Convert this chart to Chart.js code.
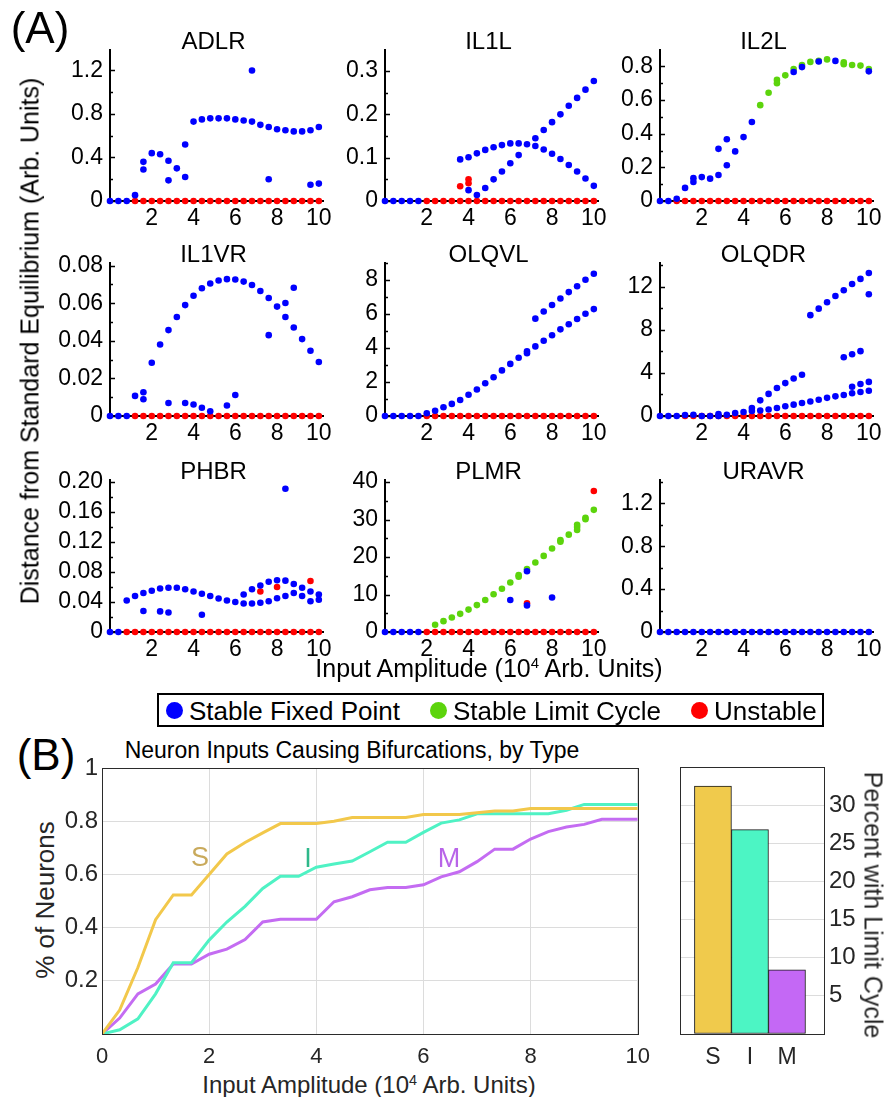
<!DOCTYPE html>
<html>
<head>
<meta charset="utf-8">
<script src="https://cdn.jsdelivr.net/npm/chart.js@4.4.1/dist/chart.umd.min.js"></script>
<style>
  body { margin: 0; background: #fff; }
  #fig { position: relative; width: 886px; height: 1097px; overflow: hidden;
         font-family: 'Liberation Sans', Arial, sans-serif; }
  canvas { position: absolute; }
  .t { position: absolute; white-space: nowrap; line-height: 1; transform-origin: center; }
  .dot { position: absolute; border-radius: 50%; }
</style>
</head>
<body>
<div id="fig"></div>
<script>
Chart.defaults.font.family = "'Liberation Sans', Arial, sans-serif";
Chart.defaults.color = "#000";
const fig = document.getElementById("fig");
const _ = null;

//Input amplitudes sampled in panel A (10^4 Arb. Units)
const amp = [0, 0.4, 0.8, 1.2, 1.6, 2, 2.4, 2.8, 3.2, 3.6, 4, 4.4, 4.8, 5.2, 5.6, 6, 6.4, 6.8, 7.2, 7.6, 8, 8.4, 8.8, 9.2, 9.6, 10];

//ADLR
const adlrBlue = [0, 0, 0, 0.054, 0.36, 0.44, 0.43, 0.37, 0.3, 0.52, 0.73, 0.75, 0.76, 0.76, 0.76, 0.75, 0.74, 0.73, 0.7, 0.68, 0.66, 0.65, 0.64, 0.64, 0.65, 0.68];
const adlrBlueX = [[4, 0.29], [7, 0.19], [9, 0.22], [17, 1.2], [19, 0.2], [24, 0.15], [25, 0.16]];
const adlrRed = [_, _, _, 0, 0, 0, 0, 0, 0, 0, 0, 0, 0, 0, 0, 0, 0, 0, 0, 0, 0, 0, 0, 0, 0, 0];

//IL1L
const il1lBlue = [0, 0, 0, 0, 0, _, _, _, _, 0.096, 0.101, 0.11, 0.118, 0.124, 0.129, 0.133, 0.133, 0.131, 0.145, 0.164, 0.182, 0.2, 0.22, 0.238, 0.257, 0.277];
const il1lBlueX = [[10, 0.025], [11, 0.014], [12, 0.03], [13, 0.05], [14, 0.068], [15, 0.087], [16, 0.106], [18, 0.127], [19, 0.119], [20, 0.109], [21, 0.097], [22, 0.083], [23, 0.068], [24, 0.052], [25, 0.035]];
const il1lRed = [_, _, _, _, _, 0, 0, 0, 0, 0, 0, 0, 0, 0, 0, 0, 0, 0, 0, 0, 0, 0, 0, 0, 0, 0];
const il1lRedX = [[9, 0.034], [10, 0.05], [10, 0.041]];

//IL2L
const il2lBlue = [0, 0, 0.013, 0.078, 0.136, 0.142, 0.133, 0.155, 0.213, 0.295, 0.38, 0.47, _, _, _, _, 0.767, 0.796, _, 0.829, _, 0.833, _, _, _, 0.771];
const il2lBlueX = [[4, 0.113], [7, 0.31], [8, 0.367]];
const il2lGreen = [_, _, _, _, _, _, _, _, _, _, _, _, 0.57, 0.644, 0.7, 0.747, 0.785, 0.809, 0.827, 0.833, 0.842, _, 0.824, 0.809, 0.805, 0.785];
const il2lGreenX = [[14, 0.72], [22, 0.813]];
const il2lRed = [_, _, 0, 0, 0, 0, 0, 0, 0, 0, 0, 0, 0, 0, 0, 0, 0, 0, 0, 0, 0, 0, 0, 0, 0, 0];

//IL1VR
const il1vrBlue = [0, 0, 0, 0.0107, 0.0126, 0.0283, 0.038, 0.0457, 0.0527, 0.059, 0.064, 0.068, 0.0705, 0.0721, 0.0728, 0.0726, 0.0715, 0.0697, 0.0665, 0.0628, 0.0582, 0.0527, 0.0471, 0.0409, 0.0347, 0.0287];
const il1vrBlueX = [[4, 0.0089], [7, 0.0069], [9, 0.0069], [10, 0.0061], [11, 0.0044], [12, 0.0025], [14, 0.0056], [15, 0.0112], [19, 0.043], [21, 0.0601], [22, 0.0682]];
const il1vrRed = [_, _, _, 0, 0, 0, 0, 0, 0, 0, 0, 0, 0, 0, 0, 0, 0, 0, 0, 0, 0, 0, 0, 0, 0, 0];

//OLQVL
const olqvlBlue = [0, 0, 0, 0, 0, 0.16, 0.31, 0.51, 0.71, 0.94, 1.25, 1.56, 1.92, 2.28, 2.68, 3.06, 3.42, 3.69, 4.09, 4.42, 4.74, 5.09, 5.39, 5.7, 6.01, 6.28];
const olqvlBlueX = [[17, 3.8], [18, 5.72], [19, 6.14], [20, 6.52], [21, 6.9], [22, 7.28], [23, 7.62], [24, 8.0], [25, 8.36]];
const olqvlRed = [_, _, _, _, _, 0, 0, 0, 0, 0, 0, 0, 0, 0, 0, 0, 0, 0, 0, 0, 0, 0, 0, 0, 0, 0];

//OLQDR
const olqdrBlue = [0, 0, 0, 0.09, 0.11, 0, 0, 0.17, 0.11, 0.28, 0.37, 0.46, 0.51, 0.6, 0.74, 0.91, 1.05, 1.2, 1.34, 1.51, 1.68, 1.82, 1.94, 2.11, 2.22, 2.34];
const olqdrBlueX = [[7, 0], [11, 0.74], [12, 1.45], [13, 2.05], [14, 2.59], [15, 3.05], [16, 3.48], [17, 3.82], [18, 9.35], [19, 9.95], [20, 10.55], [21, 11.12], [22, 11.66], [23, 12.23], [24, 12.71], [25, 13.26], [22, 5.44], [23, 5.73], [24, 6.01], [25, 11.29], [23, 2.71], [24, 2.96], [25, 3.16]];
const olqdrRed = [_, _, _, 0, 0, 0, 0, 0, 0, 0, 0, 0, 0, 0, 0, 0, 0, 0, 0, 0, 0, 0, 0, 0, 0, 0];

//PHBR
const phbrBlue = [0, 0, 0.042, 0.048, 0.052, 0.055, 0.058, 0.059, 0.059, 0.057, 0.054, 0.051, 0.048, 0.0447, 0.042, 0.04, 0.038, 0.038, 0.039, 0.041, 0.045, 0.048, 0.052, 0.048, 0.041, 0.043];
const phbrBlueX = [[4, 0.028], [6, 0.0275], [7, 0.026], [11, 0.023], [16, 0.05], [17, 0.057], [18, 0.062], [19, 0.067], [20, 0.069], [21, 0.0685], [22, 0.064], [23, 0.059], [24, 0.054], [25, 0.05], [21, 0.191]];
const phbrRed = [_, _, 0, 0, 0, 0, 0, 0, 0, 0, 0, 0, 0, 0, 0, 0, 0, 0, 0, 0, 0, 0, 0, 0, 0, 0];
const phbrRedX = [[18, 0.054], [20, 0.06], [24, 0.068]];

//PLMR
const plmrBlueX = [[0, 0], [1, 0], [2, 0], [3, 0], [4, 0], [15, 8.55], [17, 16.2], [17, 7.1], [20, 9.19]];
const plmrGreen = [_, _, _, _, _, _, 1.94, 2.9, 3.87, 4.84, 5.97, 7.18, 8.55, 10.08, 11.53, 13.2, 14.76, 16.77, 18.55, 20.3, 22.26, 24.1, 25.97, 27.2, 30.08, 32.58];
const plmrGreenX = [[16, 15.16], [21, 24.5], [23, 28.0], [23, 28.6], [24, 30.48]];
const plmrRed = [_, _, _, _, _, 0, 0, 0, 0, 0, 0, 0, 0, 0, 0, 0, 0, 0, 0, 0, 0, 0, 0, 0, 0, 0];
const plmrRedX = [[17, 7.66], [25, 37.6]];

//URAVR
const uravrBlue = [0, 0, 0, 0, 0, 0, 0, 0, 0, 0, 0, 0, 0, 0, 0, 0, 0, 0, 0, 0, 0, 0, 0, 0, 0, 0];

//Panel B: fraction of neurons bifurcated, by type
const ampB = [0, 0.33, 0.67, 1, 1.33, 1.67, 2, 2.33, 2.67, 3, 3.33, 3.67, 4, 4.33, 4.67, 5, 5.33, 5.67, 6, 6.33, 6.67, 7, 7.33, 7.67, 8, 8.33, 8.67, 9, 9.33, 9.67, 10];
const sensory = [0, 0.09, 0.25, 0.43, 0.523, 0.523, 0.6, 0.677, 0.72, 0.756, 0.791, 0.791, 0.791, 0.8, 0.814, 0.814, 0.814, 0.814, 0.825, 0.825, 0.825, 0.832, 0.838, 0.838, 0.848, 0.848, 0.848, 0.848, 0.848, 0.848, 0.848];
const inter = [0, 0.016, 0.057, 0.151, 0.268, 0.268, 0.353, 0.421, 0.48, 0.547, 0.593, 0.593, 0.627, 0.639, 0.65, 0.685, 0.721, 0.721, 0.758, 0.793, 0.805, 0.828, 0.828, 0.828, 0.828, 0.828, 0.841, 0.863, 0.863, 0.863, 0.863];
const motor = [0, 0.06, 0.151, 0.188, 0.263, 0.263, 0.3, 0.319, 0.355, 0.421, 0.431, 0.431, 0.431, 0.497, 0.516, 0.542, 0.551, 0.551, 0.561, 0.591, 0.61, 0.648, 0.695, 0.695, 0.733, 0.761, 0.778, 0.788, 0.807, 0.807, 0.807];

//Percent with limit cycle
const barCats = ["S", "I", "M"];
const barVals = [32.5, 26.8, 8.4];

const BLUE = "rgb(0, 0, 255)";
const GREEN = "rgb(92, 212, 12)";
const RED = "rgb(255, 0, 0)";
const typeColors = ["#f2c84b", "#4ff2c4", "#c46cf2"];
const barColors = ["#f0ca4c", "#4cf5c4", "#c468f5"];

function dense(arr) {
  return arr.map((v, i) => (v === null ? null : { x: amp[i], y: v })).filter((p) => p);
}
function sparse(pairs) {
  return pairs.map(([i, v]) => ({ x: amp[i], y: v }));
}

const panels = [
  { name: "ADLR", row: 0, col: 0, ymax: 1.39, major: 0.4, minor: 0.2, blue: [dense(adlrBlue), sparse(adlrBlueX)], green: [], red: [dense(adlrRed)] },
  { name: "IL1L", row: 0, col: 1, ymax: 0.349, major: 0.1, minor: 0.05, blue: [dense(il1lBlue), sparse(il1lBlueX)], green: [], red: [dense(il1lRed), sparse(il1lRedX)] },
  { name: "IL2L", row: 0, col: 2, ymax: 0.899, major: 0.2, minor: 0.1, blue: [dense(il2lBlue), sparse(il2lBlueX)], green: [dense(il2lGreen), sparse(il2lGreenX)], red: [dense(il2lRed)] },
  { name: "IL1VR", row: 1, col: 0, ymax: 0.0815, major: 0.02, minor: 0.01, blue: [dense(il1vrBlue), sparse(il1vrBlueX)], green: [], red: [dense(il1vrRed)] },
  { name: "OLQVL", row: 1, col: 1, ymax: 9.0, major: 2, minor: 1, blue: [dense(olqvlBlue), sparse(olqvlBlueX)], green: [], red: [dense(olqvlRed)] },
  { name: "OLQDR", row: 1, col: 2, ymax: 14.2, major: 4, minor: 2, blue: [dense(olqdrBlue), sparse(olqdrBlueX)], green: [], red: [dense(olqdrRed)] },
  { name: "PHBR", row: 2, col: 0, ymax: 0.203, major: 0.04, minor: 0.02, decimals: 2, blue: [dense(phbrBlue), sparse(phbrBlueX)], green: [], red: [dense(phbrRed), sparse(phbrRedX)] },
  { name: "PLMR", row: 2, col: 1, ymax: 40.6, major: 10, minor: 5, blue: [sparse(plmrBlueX)], green: [dense(plmrGreen), sparse(plmrGreenX)], red: [dense(plmrRed), sparse(plmrRedX)] },
  { name: "URAVR", row: 2, col: 2, ymax: 1.42, major: 0.4, minor: 0.2, blue: [dense(uravrBlue)], green: [], red: [] },
];

//Layout of the 3x3 grid (plot-area boxes)
const colL = [110, 385, 660];
const rowT = [37, 250, 467];
const rowH = [164, 166, 165];
const plotW = 213;

function addCanvas(x, y, w, h) {
  const c = document.createElement("canvas");
  c.width = w;
  c.height = h;
  c.style.left = x + "px";
  c.style.top = y + "px";
  c.style.width = w + "px";
  c.style.height = h + "px";
  fig.appendChild(c);
  return c;
}

function addText(html, cx, cy, size, color, rot, anchorLeft) {
  const d = document.createElement("div");
  d.className = "t";
  d.innerHTML = html;
  d.style.fontSize = size + "px";
  d.style.color = color || "#000";
  d.style.left = cx + "px";
  d.style.top = cy + "px";
  const tr = anchorLeft ? "translate(0,-50%)" : "translate(-50%,-50%)";
  d.style.transform = tr + (rot ? " rotate(" + rot + "deg)" : "");
  fig.appendChild(d);
  return d;
}

//Inward tick marks on the left axis (major and minor)
const inTicks = {
  id: "inTicks",
  beforeDatasetsDraw(chart) {
    const y = chart.scales.y;
    const ctx = chart.ctx;
    const left = chart.chartArea.left;
    ctx.save();
    ctx.strokeStyle = "#000";
    ctx.lineWidth = 1.5;
    y.ticks.forEach((t) => {
      const py = Math.round(y.getPixelForValue(t.value)) + 0.5;
      const len = t.label ? 5 : 3;
      ctx.beginPath();
      ctx.moveTo(left, py);
      ctx.lineTo(left + len, py);
      ctx.stroke();
    });
    ctx.restore();
  },
};

//Box around plot area
const boxPlugin = {
  id: "box",
  afterDraw(chart) {
    const a = chart.chartArea;
    const ctx = chart.ctx;
    ctx.save();
    ctx.strokeStyle = "#2b2b2b";
    ctx.lineWidth = 1;
    ctx.strokeRect(Math.round(a.left) + 0.5, Math.round(a.top) + 0.5, Math.round(a.right - a.left), Math.round(a.bottom - a.top));
    ctx.restore();
  },
};

function makePanel(p) {
  const L = colL[p.col];
  const T = rowT[p.row];
  const H = rowH[p.row];
  const cv = addCanvas(L - 75, T - 8, plotW + 75 + 16, H + 8 + 34);
  const datasets = [];
  const add = (list, color) =>
    list.forEach((d) =>
      datasets.push({ data: d, backgroundColor: color, borderWidth: 0, pointRadius: 3.3, pointHoverRadius: 3.3, clip: false })
    );
  add(p.blue, BLUE);
  add(p.green, GREEN);
  add(p.red, RED);

  new Chart(cv, {
    type: "scatter",
    data: { datasets: datasets },
    options: {
      responsive: false,
      animation: false,
      events: [],
      layout: { padding: { top: 8, right: 16, left: 0, bottom: 0 } },
      plugins: { legend: { display: false }, tooltip: { enabled: false } },
      scales: {
        x: {
          type: "linear",
          min: 0,
          max: 10.2,
          afterFit: (s) => { s.height = 34; },
          border: { color: "#000", width: 2 },
          grid: { display: false, drawTicks: false },
          ticks: {
            stepSize: 2, includeBounds: false, autoSkip: false, maxRotation: 0, padding: 4,
            color: "#000", font: { size: 23 },
            callback: (v) => (v === 0 ? "" : v),
          },
        },
        y: {
          min: 0,
          max: p.ymax,
          afterFit: (s) => { s.width = 75; },
          border: { color: "#000", width: 2 },
          grid: { display: false, drawTicks: false },
          ticks: {
            stepSize: p.minor, includeBounds: false, autoSkip: false, maxTicksLimit: 100, padding: 7,
            color: "#000", font: { size: 23 },
            callback: (v) => {
              const r = v / p.major;
              if (Math.abs(r - Math.round(r)) > 1e-6) return "";
              if (v === 0) return "0";
              return p.decimals ? v.toFixed(p.decimals) : String(+v.toFixed(4));
            },
          },
        },
      },
    },
    plugins: [inTicks],
  });
  addText(p.name, L + plotW / 2 - 3, T + 4, 24);
}

panels.forEach(makePanel);

//Panel A labels and shared legend
addText("(A)", 40, 28, 44);
addText("Distance from Standard Equilibrium (Arb. Units)", 30, 341, 25, "#000", -90);
addText('Input Amplitude (10<span style="font-size:0.6em;vertical-align:0.6em">4</span> Arb. Units)', 489, 668, 25);

const legendBox = document.createElement("div");
legendBox.style.cssText = "position:absolute;left:157px;top:693px;width:667px;height:34px;border:2px solid #000;box-sizing:border-box;background:#fff;";
fig.appendChild(legendBox);
const legendItems = [
  { label: "Stable Fixed Point", color: BLUE, dot: 174 },
  { label: "Stable Limit Cycle", color: GREEN, dot: 438 },
  { label: "Unstable", color: RED, dot: 699 },
];
legendItems.forEach((it) => {
  const d = document.createElement("div");
  d.className = "dot";
  d.style.cssText += "left:" + (it.dot - 8.5) + "px;top:" + (710 - 8.5) + "px;width:17px;height:17px;background:" + it.color + ";";
  fig.appendChild(d);
  addText(it.label, it.dot + 15, 711, 26, "#000", 0, true);
});

//Panel B: line chart
addText("(B)", 46, 755, 44);
addText("Neuron Inputs Causing Bifurcations, by Type", 352, 750, 23);
addText("% of Neurons", 45, 900, 26, "#262626", -90);
addText('Input Amplitude (10<span style="font-size:0.6em;vertical-align:0.6em">4</span> Arb. Units)', 369, 1085, 24, "#262626");

const lineCanvas = addCanvas(20, 740, 640, 357);
const toXY = (ys) => ys.map((v, i) => ({ x: ampB[i], y: v }));
new Chart(lineCanvas, {
  type: "line",
  data: {
    datasets: [
      { label: "S", data: toXY(sensory), borderColor: typeColors[0], borderWidth: 3, pointRadius: 0, tension: 0 },
      { label: "I", data: toXY(inter), borderColor: typeColors[1], borderWidth: 3, pointRadius: 0, tension: 0 },
      { label: "M", data: toXY(motor), borderColor: typeColors[2], borderWidth: 3, pointRadius: 0, tension: 0 },
    ],
  },
  options: {
    responsive: false,
    animation: false,
    events: [],
    layout: { padding: { top: 28, right: 20, left: 0, bottom: 0 } },
    plugins: { legend: { display: false }, tooltip: { enabled: false } },
    scales: {
      x: {
        type: "linear",
        min: 0,
        max: 10,
        afterFit: (s) => { s.height = 63; },
        border: { display: false },
        grid: { color: "#dcdcdc", drawTicks: false },
        ticks: { stepSize: 2, padding: 10, color: "#262626", font: { size: 22 }, maxRotation: 0 },
      },
      y: {
        min: 0,
        max: 1,
        afterFit: (s) => { s.width = 82; },
        border: { display: false },
        grid: { color: "#dcdcdc", drawTicks: false },
        ticks: {
          stepSize: 0.2, padding: 4, color: "#262626", font: { size: 24 },
          callback: (v) => (v === 0 ? "" : v === 1 ? "1" : v.toFixed(1)),
        },
      },
    },
  },
  plugins: [boxPlugin],
});
addText("S", 200, 857, 27, "#c9aa5c");
addText("I", 308, 858, 27, "#2eb88a");
addText("M", 449, 858, 27, "#b864e8");

//Panel B: bar chart
const barCanvas = addCanvas(660, 740, 210, 357);
new Chart(barCanvas, {
  type: "bar",
  data: {
    datasets: [
      {
        data: barCats.map((c, i) => ({ x: i + 1, y: barVals[i] })),
        backgroundColor: barColors,
        borderColor: "#1a1a1a",
        borderWidth: 1,
        borderSkipped: false,
        barPercentage: 1,
        categoryPercentage: 1,
      },
    ],
  },
  options: {
    responsive: false,
    animation: false,
    events: [],
    layout: { padding: { top: 27, right: 0, left: 20, bottom: 0 } },
    plugins: { legend: { display: false }, tooltip: { enabled: false } },
    scales: {
      x: {
        type: "linear",
        min: 0.11,
        max: 4,
        offset: false,
        afterFit: (s) => { s.height = 63; },
        afterBuildTicks: (s) => { s.ticks = barCats.map((c, i) => ({ value: i + 1 })); },
        border: { display: false },
        grid: { display: false, drawTicks: false },
        ticks: { padding: 10, color: "#262626", font: { size: 23 }, callback: (v) => barCats[v - 1] },
      },
      y: {
        position: "right",
        min: 0,
        max: 35,
        afterFit: (s) => { s.width = 46; },
        border: { display: false },
        grid: { color: "#dcdcdc", drawTicks: false },
        ticks: {
          stepSize: 5, padding: 5, color: "#262626", font: { size: 24 },
          callback: (v) => (v === 0 || v === 35 ? "" : v),
        },
      },
    },
  },
  plugins: [boxPlugin],
});
addText("Percent with Limit Cycle", 873, 905, 25, "#262626", 90);
</script>
</body>
</html>
